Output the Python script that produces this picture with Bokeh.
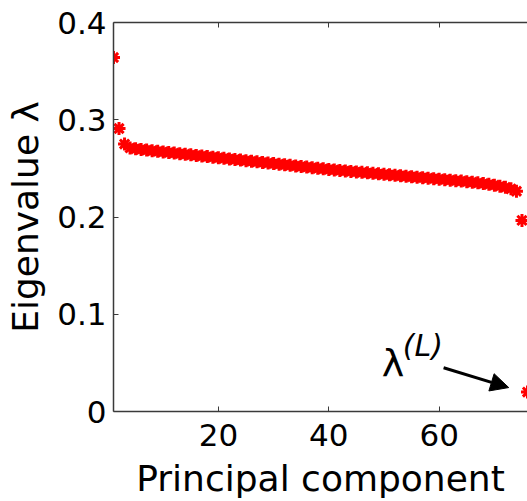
from bokeh.plotting import figure
from bokeh.models import (LinearAxis, FixedTicker, Label, Arrow, NormalHead,
                          Range1d, ColumnDataSource)
from bokeh.embed import file_html
from bokeh.resources import INLINE

# ---- data ----
component = list(range(1, 77))
eigenvalue = [
    0.364, 0.291, 0.275, 0.2710, 0.2702, 0.2695, 0.2688, 0.2681, 0.2675, 0.2669,
    0.2663, 0.2657, 0.2651, 0.2645, 0.2639, 0.2633, 0.2627, 0.2621, 0.2615, 0.2609,
    0.2603, 0.2597, 0.2591, 0.2585, 0.2579, 0.2573, 0.2567, 0.2561, 0.2555, 0.2549,
    0.2543, 0.2537, 0.2531, 0.2525, 0.2519, 0.2513, 0.2507, 0.2501, 0.2495, 0.2489,
    0.2484, 0.2479, 0.2474, 0.2469, 0.2464, 0.2459, 0.2454, 0.2449, 0.2444, 0.2439,
    0.2434, 0.2429, 0.2424, 0.2419, 0.2414, 0.2409, 0.2404, 0.2399, 0.2394, 0.2389,
    0.2384, 0.2379, 0.2374, 0.2369, 0.2363, 0.2357, 0.2351, 0.2344, 0.2336, 0.2327,
    0.2317, 0.2305, 0.2290, 0.2265, 0.1965, 0.0200,
]
x_ticks = [20, 40, 60]
x_tick_labels = ["20", "40", "60"]
y_ticks = [0, 0.1, 0.2, 0.3, 0.4]
y_tick_labels = ["0", "0.1", "0.2", "0.3", "0.4"]
x_label = "Principal component"
y_label = "Eigenvalue λ"
annot_main = "λ"
annot_sup = "(L)"
arrow_start = (60.8, 0.045)
arrow_end = (72.6, 0.0246)
annot_pos = (49.6, 0.0503)

FONT = "DejaVu Sans"
AXIS_COLOR = "#3a3a3a"

p = figure(width=527, height=501, output_backend="svg", toolbar_location=None,
           x_range=Range1d(1, 76), y_range=Range1d(0, 0.4),
           min_border_left=113, min_border_top=22, min_border_bottom=89,
           min_border_right=0)
p.outline_line_color = None
p.grid.visible = False
p.background_fill_color = "white"
p.border_fill_color = "white"

src = ColumnDataSource(dict(x=component, y=eigenvalue))
p.scatter("x", "y", source=src, marker="asterisk", size=13,
          line_color="red", line_width=3)

for ax in (p.xaxis[0], p.yaxis[0]):
    ax.axis_line_color = AXIS_COLOR
    ax.axis_line_width = 1.5
    ax.major_tick_line_color = AXIS_COLOR
    ax.major_tick_in = 5
    ax.major_tick_out = 0
    ax.minor_tick_line_color = None
    ax.major_label_text_font = FONT
    ax.major_label_text_font_size = "31px"
    ax.major_label_text_color = "black"
    ax.axis_label_text_font = FONT
    ax.axis_label_text_font_size = "36px"
    ax.axis_label_text_font_style = "normal"
    ax.axis_label_text_color = "black"

p.xaxis[0].ticker = FixedTicker(ticks=x_ticks)
p.xaxis[0].major_label_overrides = dict(zip(x_ticks, x_tick_labels))
p.xaxis[0].axis_label = x_label
p.xaxis[0].major_label_standoff = 12
p.xaxis[0].axis_label_standoff = 9

p.yaxis[0].ticker = FixedTicker(ticks=y_ticks)
p.yaxis[0].major_label_overrides = dict(zip(y_ticks, y_tick_labels))
p.yaxis[0].axis_label = y_label
p.yaxis[0].major_label_standoff = 7
p.yaxis[0].axis_label_standoff = 8

# top box edge with inward ticks, no labels
top = LinearAxis(ticker=FixedTicker(ticks=x_ticks), axis_line_color=AXIS_COLOR,
                 axis_line_width=1.5, major_tick_in=5, major_tick_out=0,
                 major_tick_line_color=AXIS_COLOR, minor_tick_line_color=None,
                 major_label_text_color=None, major_label_standoff=0)
p.add_layout(top, "above")

# annotation
p.add_layout(Label(x=annot_pos[0], y=annot_pos[1], text=annot_main,
                   text_font=FONT, text_font_size="38px", text_color="black",
                   text_baseline="alphabetic"))
p.add_layout(Label(x=annot_pos[0], y=annot_pos[1], text=annot_sup,
                   x_offset=21, y_offset=17,
                   text_font=FONT, text_font_size="30px", text_font_style="italic",
                   text_color="black", text_baseline="alphabetic"))
p.add_layout(Arrow(x_start=arrow_start[0], y_start=arrow_start[1],
                   x_end=arrow_end[0], y_end=arrow_end[1],
                   line_color="black", line_width=3,
                   end=NormalHead(size=18, fill_color="black", line_color="black")))

open("out.html", "w").write(file_html(p, INLINE))
